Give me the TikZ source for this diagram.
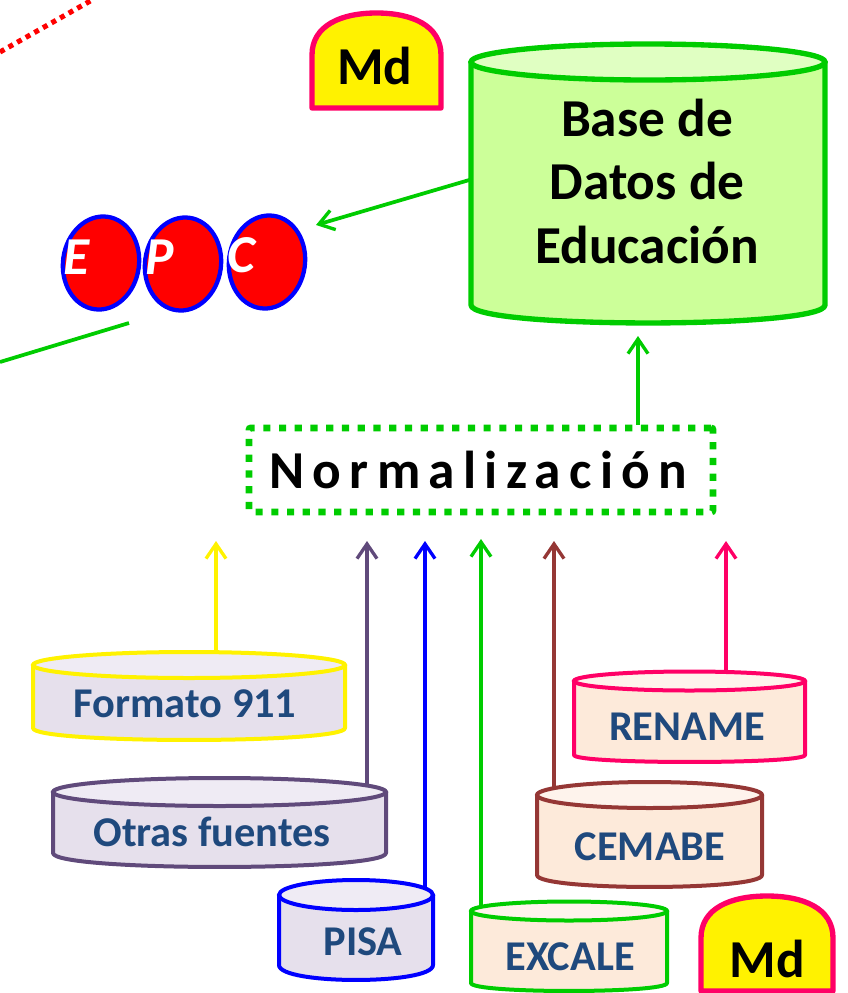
\documentclass[tikz,border=0pt]{standalone}
\usepackage{fontspec}
\setmainfont{Carlito}
\usetikzlibrary{arrows.meta,shapes.geometric,backgrounds,calc}
\definecolor{cgreen}{HTML}{00CC00}
\definecolor{cpink}{HTML}{FF0066}
\definecolor{cpurple}{HTML}{604A7B}
\definecolor{cbrown}{HTML}{953735}
\definecolor{ctext}{HTML}{1F497D}
\definecolor{fpurple}{HTML}{E6E0EC}
\definecolor{tpurple}{HTML}{EFEBF4}
\definecolor{forange}{HTML}{FDEADA}
\definecolor{torange}{HTML}{FEF3EC}
\definecolor{fgreen}{HTML}{CCFF99}
\definecolor{tgreen}{HTML}{E0FFC2}
\newcommand{\pxfont}[1]{\fontsize{#1}{#1}\selectfont}
\tikzset{
  x=0.75pt,y=-0.75pt,
  conn/.style={line width=2.8pt,-{Straight Barb[length=11pt,width=15pt,line width=2.5pt]}},
  cyllabel/.style={text=ctext,font=\pxfont{31.8}\bfseries,inner sep=0pt},
  bigtext/.style={text=black,font=\pxfont{40}\bfseries,inner sep=0pt},
  epc/.style={draw=blue,fill=red,line width=3.2pt,ellipse,rotate=-8,minimum width=57pt,minimum height=70pt,inner sep=0pt},
  epcletter/.style={text=white,font=\pxfont{40}\bfseries\itshape,inner sep=0pt},
  ghost/.style={inner sep=0pt,outer sep=0pt},
}
% name, xl, xr, ytop, ybot, ry top, ry bot, then colour, fill, top fill, line width
\newcommand{\dbcyl}[7]{%
  \def\cxl{#2}\def\cxr{#3}\def\cyt{#4}\def\cyb{#5}\def\crt{#6}\def\crb{#7}%
  \dbcylrest{#1}}
\newcommand{\dbcylrest}[5]{%
  \pgfmathsetmacro\crx{(\cxr-\cxl)/2}%
  \pgfmathsetmacro\ccx{(\cxr+\cxl)/2}%
  \pgfmathsetmacro\ccy{(\cyt-\crt+\cyb+\crb)/2}%
  \filldraw[draw=#2,fill=#3,line width=#5,line join=round]
    (\cxl,\cyt) -- (\cxl,\cyb) .. controls (\cxl,{\cyb+\crb*1.33}) and (\cxr,{\cyb+\crb*1.33}) .. (\cxr,\cyb) -- (\cxr,\cyt) -- cycle;
  \filldraw[draw=#2,fill=#4,line width=#5]
    (\ccx,\cyt) ellipse [x radius=\crx*0.75pt,y radius=\crt*0.75pt];
  \node[ghost,minimum width={(\cxr-\cxl)*0.75pt},minimum height={(\cyb+\crb-\cyt+\crt)*0.75pt}] (#1) at (\ccx,\ccy) {};
}
\newcommand{\mdshape}[5]{% name, xl, xr, ytop, ybot
  \filldraw[draw=cpink,fill=yellow,line width=4pt,line join=round]
    (#2,#5) -- (#2,{#4+42}) .. controls (#2,{#4+12}) and ({#2+30},#4) .. ({(#2+#3)/2},#4)
    .. controls ({#3-30},#4) and (#3,{#4+12}) .. (#3,{#4+42}) -- (#3,#5) -- cycle;
  \node[ghost,minimum width={(#3-#2)*0.75pt},minimum height={(#5-#4)*0.75pt}] (#1) at ({(#2+#3)/2},{(#4+#5)/2}) {};
}
\begin{document}
\begin{tikzpicture}
\useasboundingbox (0,0) rectangle (848,993);
\clip (0,0) rectangle (848,993);

% main database
\dbcyl{base}{471}{825}{62}{305}{18}{18}{cgreen}{fgreen}{tgreen}{4pt}
\node[bigtext,align=center] (baseA) at (647,118) {Base de};
\node[bigtext,align=center] (baseB) at (647,181) {Datos de};
\node[bigtext,align=center] (baseC) at (647,245) {Educación};

% Md badges
\mdshape{mdA}{312}{441}{13}{108}
\node[bigtext] (mdAt) at (375,66) {Md};
\mdshape{mdB}{701}{833}{896}{991}
\node[bigtext] (mdBt) at (767,959) {Md};

% EPC
\node[epc] (epcE) at (101,263) {};
\node[epc] (epcP) at (183,264) {};
\node[epc] (epcC) at (267,262) {};
\node[epcletter] (letE) at (77,257) {E};
\node[epcletter] (letP) at (160,257) {P};
\node[epcletter] (letC) at (241,255) {C};

% free lines
\coordinate (redA) at (0,52);
\coordinate (redB) at (92,0);
\draw[red,line width=3.8pt,dash pattern=on 3.8pt off 3.6pt] (redA) -- (redB);
\coordinate (lineA) at (0,362);
\coordinate (lineB) at (129,323);
\draw[cgreen,line width=2.8pt] (lineA) -- (lineB);

% normalizacion
\node[draw=cgreen,line width=5.2pt,dash pattern=on 5.4pt off 6.4pt,rounded corners=1.5pt,minimum width=348pt,minimum height=63pt,inner sep=0pt,
  font=\pxfont{40}\bfseries\addfontfeature{LetterSpace=15.5}] (norm) at (481,470) {\hspace{-4pt}Normalización};

% sources
\dbcyl{fmt}{33}{345}{665}{728}{13}{12}{yellow}{fpurple}{tpurple}{3pt}
\node[cyllabel] (fmtT) at (185,704) {Formato 911};
\dbcyl{otr}{53}{386}{792}{853}{14}{14}{cpurple}{fpurple}{tpurple}{3pt}
\node[cyllabel] (otrT) at (212,832) {Otras fuentes};
\dbcyl{pis}{279}{433}{895}{965}{15}{15}{blue}{fpurple}{tpurple}{3pt}
\node[cyllabel] (pisT) at (363,942) {PISA};
\dbcyl{ren}{574}{805}{681}{755}{9.5}{7}{cpink}{forange}{torange}{3pt}
\node[cyllabel] (renT) at (687,727) {RENAME};
\dbcyl{cem}{537}{762}{795}{875}{13}{12}{cbrown}{forange}{torange}{3pt}
\node[cyllabel] (cemT) at (650,847) {CEMABE};
\dbcyl{exc}{471}{667}{911}{983}{9.5}{8}{cgreen}{forange}{torange}{3pt}
\node[cyllabel] (excT) at (570,957) {EXCALE};

% connector free ends
\coordinate (endC) at (316,225);
\coordinate (endBase) at (638,336);
\coordinate (endF) at (216,541);
\coordinate (endO) at (367,541);
\coordinate (endP) at (425,541);
\coordinate (endX) at (481,539);
\coordinate (endE) at (554,541);
\coordinate (endR) at (726,541);

\begin{pgfonlayer}{background}
\draw[conn,cgreen] ($(base.west)+(0,-4)$) -- (endC);
\draw[conn,cgreen] (norm.north -| endBase) -- (endBase);
\draw[conn,yellow] (fmt.center -| endF) -- (endF);
\draw[conn,cpurple] (otr.center -| endO) -- (endO);
\draw[conn,blue] (pis.center -| endP) -- (endP);
\draw[conn,cgreen] (exc.center -| endX) -- (endX);
\draw[conn,cbrown] (cem.center -| endE) -- (endE);
\draw[conn,cpink] (ren.center -| endR) -- (endR);
\end{pgfonlayer}
\end{tikzpicture}
\end{document}
